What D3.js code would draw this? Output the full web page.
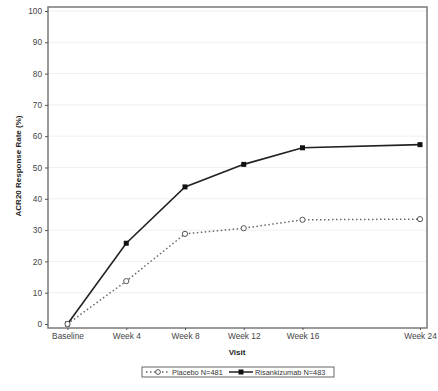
<!DOCTYPE html>
<html><head><meta charset="utf-8">
<script src="https://cdn.jsdelivr.net/npm/d3@7"></script>
<style>body{margin:0;background:#fff}svg{display:block;font-family:"Liberation Sans",Arial,sans-serif}</style>
</head><body><svg id="c" width="438" height="391"></svg>
<script>
const visits = ["Baseline","Week 4","Week 8","Week 12","Week 16","Week 24"];
const weeks = [0,4,8,12,16,24];
const placebo = [0,13.7,28.8,30.6,33.3,33.5];
const risankizumab = [0,25.8,43.8,51.0,56.3,57.3];
const yTicks = [0,10,20,30,40,50,60,70,80,90,100];
const seriesNames = ["Placebo N=481","Risankizumab N=483"];

const svg = d3.select("#c");
const L=48, R=427, T=7, B=328;
const x = d3.scaleLinear().domain([0,24]).range([67.5,420]);
const y = d3.scaleLinear().domain([0,100]).range([324,11]);

// gridlines
svg.append("g").selectAll("line").data(yTicks.filter(d=>d>0)).join("line")
  .attr("x1",L).attr("x2",R).attr("y1",d=>y(d)).attr("y2",d=>y(d))
  .attr("stroke","#efefef").attr("stroke-width",1);

// frame
svg.append("rect").attr("x",L).attr("y",T).attr("width",R-L).attr("height",B-T)
  .attr("fill","none").attr("stroke","#7a7a7a").attr("stroke-width",1.5);

// y axis
const ya = svg.append("g").attr("transform",`translate(${L},0)`)
  .call(d3.axisLeft(y).tickValues(yTicks).tickSize(3).tickPadding(3));
ya.select(".domain").remove();
ya.selectAll("line").attr("stroke","#555");
ya.selectAll("text").attr("font-size",8.3).attr("fill","#444");

// x axis
const xa = svg.append("g").attr("transform",`translate(0,${B})`)
  .call(d3.axisBottom(x).tickValues(weeks).tickFormat((d,i)=>visits[i]).tickSize(2).tickPadding(3));
xa.select(".domain").remove();
xa.selectAll("line").attr("stroke","#555");
xa.selectAll("text").attr("font-size",8.3).attr("fill","#444");

// titles
svg.append("text").attr("x",237).attr("y",355).attr("text-anchor","middle")
  .attr("font-size",8).attr("font-weight","bold").attr("fill","#222").text("Visit");
svg.append("text").attr("transform","translate(21,166) rotate(-90)").attr("text-anchor","middle")
  .attr("font-size",8).attr("font-weight","bold").attr("fill","#222").text("ACR20 Response Rate (%)");

const line = d3.line().x((d,i)=>x(weeks[i])).y(d=>y(d));

// placebo
svg.append("path").datum(placebo).attr("d",line).attr("fill","none")
  .attr("stroke","#666").attr("stroke-width",1.5).attr("stroke-dasharray","1.5,2.5");
// risankizumab
svg.append("path").datum(risankizumab).attr("d",line).attr("fill","none")
  .attr("stroke","#222").attr("stroke-width",1.6);
svg.append("g").selectAll("rect").data(risankizumab).join("rect")
  .attr("x",(d,i)=>x(weeks[i])-2.5).attr("y",d=>y(d)-2.5).attr("width",5).attr("height",5).attr("fill","#111");
svg.append("g").selectAll("circle").data(placebo).join("circle")
  .attr("cx",(d,i)=>x(weeks[i])).attr("cy",d=>y(d)).attr("r",2.6)
  .attr("fill","#fff").attr("stroke","#555").attr("stroke-width",1);

// legend
const lg = svg.append("g");
lg.append("rect").attr("x",142).attr("y",367).attr("width",192).attr("height",10)
  .attr("fill","#fff").attr("stroke","#666").attr("stroke-width",1);
lg.append("line").attr("x1",146).attr("x2",170).attr("y1",372).attr("y2",372)
  .attr("stroke","#666").attr("stroke-width",1.3).attr("stroke-dasharray","1.5,2.5");
lg.append("circle").attr("cx",158).attr("cy",372).attr("r",2.4).attr("fill","#fff").attr("stroke","#555");
lg.append("text").attr("x",172).attr("y",374.7).attr("font-size",7.4).attr("fill","#333").text(seriesNames[0]);
lg.append("line").attr("x1",229).attr("x2",253).attr("y1",372).attr("y2",372)
  .attr("stroke","#222").attr("stroke-width",1.5);
lg.append("rect").attr("x",238.5).attr("y",369.5).attr("width",5).attr("height",5).attr("fill","#111");
lg.append("text").attr("x",255).attr("y",374.7).attr("font-size",7.4).attr("fill","#333").text(seriesNames[1]);
</script></body></html>
